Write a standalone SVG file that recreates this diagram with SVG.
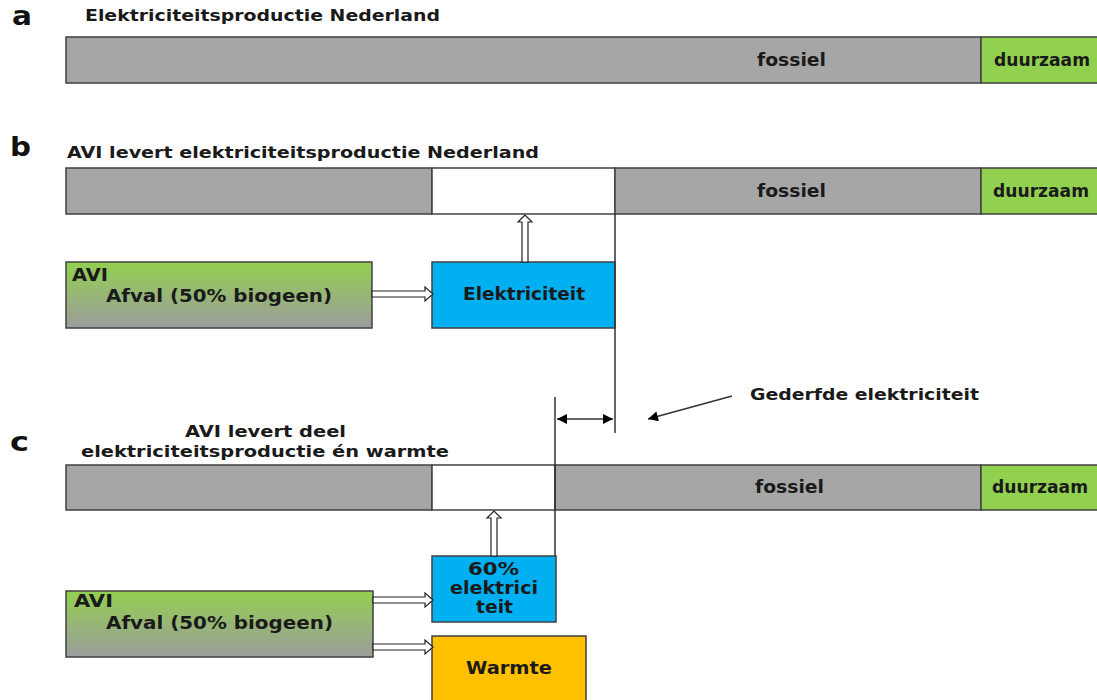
<svg xmlns="http://www.w3.org/2000/svg" width="1097" height="700" viewBox="0 0 1097 700">
<defs>
<linearGradient id="avi" x1="0" y1="0" x2="0" y2="1">
<stop offset="0" stop-color="#92D050"/>
<stop offset="1" stop-color="#9C9C9C"/>
</linearGradient>
<marker id="ah2" viewBox="0 0 10 10" refX="10" refY="5" markerWidth="16" markerHeight="10" orient="auto-start-reverse" markerUnits="userSpaceOnUse">
<path d="M0,0 L10,5 L0,10 z" fill="#000"/>
</marker>
</defs>
<style>
text{font-family:"DejaVu Sans","Verdana",sans-serif;font-weight:bold;fill:#1a1a1a}
.t{font-size:16px}
.l{font-size:17px}
.big{font-size:27px;fill:#111}
.g{fill:#A6A6A6;stroke:#404040;stroke-width:1.5}
.w{fill:#FFFFFF;stroke:#404040;stroke-width:1.5}
.gr{fill:#92D050;stroke:#404040;stroke-width:1.5}
.bl{fill:#00B0F0;stroke:#404040;stroke-width:1.5}
.or{fill:#FFC000;stroke:#404040;stroke-width:1.5}
.av{fill:url(#avi);stroke:#404040;stroke-width:1.5}
.ba{fill:#fff;stroke:#222;stroke-width:1.2}
.ln{stroke:#333;stroke-width:1.5;fill:none}
</style>
<rect width="1097" height="700" fill="#fff"/>

<g id="labels">
<text class="big" x="12" y="25" textLength="20" lengthAdjust="spacingAndGlyphs">a</text>
<text class="big" x="10" y="156" textLength="21" lengthAdjust="spacingAndGlyphs">b</text>
<text class="big" x="10" y="451" textLength="19" lengthAdjust="spacingAndGlyphs">c</text>
<text class="t" x="85" y="21" textLength="355" lengthAdjust="spacingAndGlyphs">Elektriciteitsproductie Nederland</text>
<text class="t" x="67" y="158" textLength="472" lengthAdjust="spacingAndGlyphs">AVI levert elektriciteitsproductie Nederland</text>
<text class="t" x="185" y="437" textLength="161" lengthAdjust="spacingAndGlyphs">AVI levert deel</text>
<text class="t" x="81" y="457" textLength="368" lengthAdjust="spacingAndGlyphs">elektriciteitsproductie  én warmte</text>
<text class="t" x="750" y="400" textLength="229" lengthAdjust="spacingAndGlyphs">Gederfde elektriciteit</text>
</g>

<g id="bar-a">
<rect class="g" x="66" y="37" width="915" height="46"/>
<rect class="gr" x="981" y="37" width="120" height="46"/>
<text class="l" x="757" y="66" textLength="69" lengthAdjust="spacingAndGlyphs">fossiel</text>
<text class="l" x="994" y="66" textLength="96" lengthAdjust="spacingAndGlyphs">duurzaam</text>
</g>

<g id="bar-b">
<rect class="g" x="66" y="168" width="366" height="46"/>
<rect class="w" x="432" y="168" width="183" height="46"/>
<rect class="g" x="615" y="168" width="366" height="46"/>
<rect class="gr" x="981" y="168" width="120" height="46"/>
<text class="l" x="757" y="197" textLength="69" lengthAdjust="spacingAndGlyphs">fossiel</text>
<text class="l" x="993" y="197" textLength="96" lengthAdjust="spacingAndGlyphs">duurzaam</text>
</g>

<g id="avi-b">
<rect class="av" x="66" y="262" width="306" height="66"/>
<text class="l" x="72" y="281" textLength="36" lengthAdjust="spacingAndGlyphs">AVI</text>
<text class="l" x="106" y="302" textLength="226" lengthAdjust="spacingAndGlyphs">Afval (50% biogeen)</text>
</g>

<g id="elek-b">
<rect class="bl" x="432" y="262" width="183" height="66"/>
<text class="l" x="463" y="300" textLength="122" lengthAdjust="spacingAndGlyphs">Elektriciteit</text>
</g>

<g id="bar-c">
<rect class="g" x="66" y="465" width="366" height="45"/>
<rect class="w" x="432" y="465" width="123" height="45"/>
<rect class="g" x="555" y="465" width="426" height="45"/>
<rect class="gr" x="981" y="465" width="120" height="45"/>
<text class="l" x="755" y="493" textLength="69" lengthAdjust="spacingAndGlyphs">fossiel</text>
<text class="l" x="992" y="493" textLength="96" lengthAdjust="spacingAndGlyphs">duurzaam</text>
</g>

<g id="elek-c">
<rect class="bl" x="432" y="556" width="124" height="66"/>
<text class="l" x="468" y="575" textLength="51" lengthAdjust="spacingAndGlyphs">60%</text>
<text class="l" x="450" y="594" textLength="88" lengthAdjust="spacingAndGlyphs">elektrici</text>
<text class="l" x="476" y="613" textLength="37" lengthAdjust="spacingAndGlyphs">teit</text>
</g>

<g id="avi-c">
<rect class="av" x="66" y="591" width="307" height="66"/>
<text class="l" x="74" y="607" textLength="39" lengthAdjust="spacingAndGlyphs">AVI</text>
<text class="l" x="106" y="629" textLength="227" lengthAdjust="spacingAndGlyphs">Afval (50% biogeen)</text>
</g>

<g id="warmte-c">
<rect class="or" x="432" y="636" width="154" height="70"/>
<text class="l" x="466" y="674" textLength="86" lengthAdjust="spacingAndGlyphs">Warmte</text>
</g>

<g id="connectors">
<polygon class="ba" points="372,291 425,291 425,287 433,294 425,301 425,297 372,297"/>
<polygon class="ba" points="522,262 522,222 518,222 525,215 532,222 528,222 528,262"/>
<polygon class="ba" points="491,556 491,518 487,518 494,511 501,518 497,518 497,556"/>
<polygon class="ba" points="373,597 425,597 425,593 433,600 425,607 425,603 373,603"/>
<polygon class="ba" points="373,644 425,644 425,640 433,647 425,654 425,650 373,650"/>
<line class="ln" x1="615" y1="214" x2="615" y2="433"/>
<line class="ln" x1="555" y1="397" x2="555" y2="556"/>
<line class="ln" x1="557" y1="419" x2="613" y2="419" marker-start="url(#ah2)" marker-end="url(#ah2)"/>
<line class="ln" x1="732" y1="396" x2="648" y2="419" marker-end="url(#ah2)"/>
</g>
</svg>
